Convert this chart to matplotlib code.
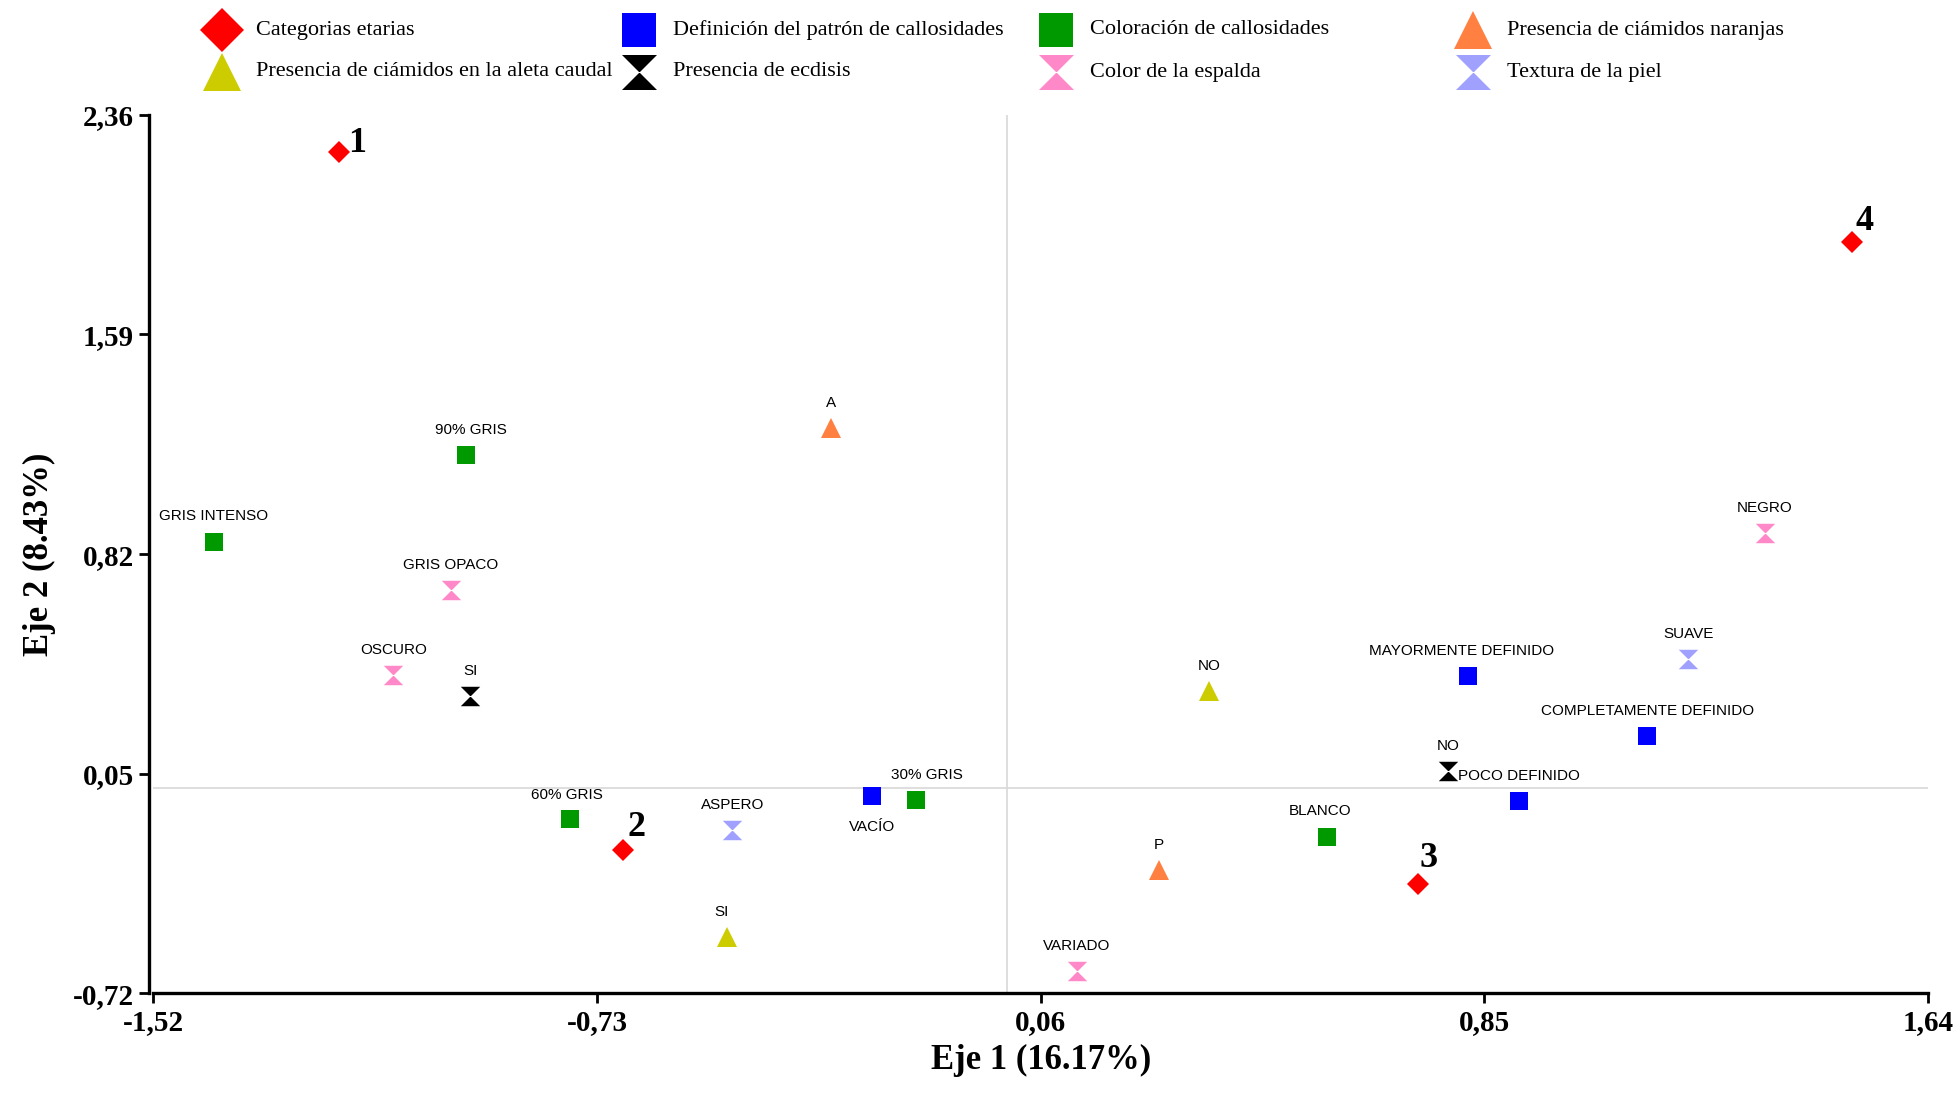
import matplotlib
matplotlib.use("Agg")
import matplotlib.pyplot as plt
from matplotlib.path import Path

# ---- data: coordinates of each category on the two axes ----
etarias_lbl = ["1", "2", "3", "4"]
etarias_x = [-1.189, -0.684, 0.731, 1.504]
etarias_y = [2.229, -0.217, -0.335, 1.914]

patron_lbl = ["VACÍO", "MAYORMENTE DEFINIDO", "COMPLETAMENTE DEFINIDO", "POCO DEFINIDO"]
patron_x = [-0.240, 0.820, 1.140, 0.911]
patron_y = [-0.029, 0.391, 0.181, -0.046]

coloracion_lbl = ["90% GRIS", "GRIS INTENSO", "60% GRIS", "30% GRIS", "BLANCO"]
coloracion_x = [-0.964, -1.413, -0.778, -0.162, 0.569]
coloracion_y = [1.166, 0.864, -0.108, -0.042, -0.173]

naranjas_lbl = ["A", "P"]
naranjas_x = [-0.313, 0.271]
naranjas_y = [1.262, -0.287]

caudal_lbl = ["NO", "SI"]
caudal_x = [0.360, -0.498]
caudal_y = [0.339, -0.523]

ecdisis_lbl = ["SI", "NO"]
ecdisis_x = [-0.956, 0.786]
ecdisis_y = [0.321, 0.059]

espalda_lbl = ["GRIS OPACO", "OSCURO", "NEGRO", "VARIADO"]
espalda_x = [-0.991, -1.093, 1.349, 0.124]
espalda_y = [0.693, 0.396, 0.894, -0.641]

textura_lbl = ["ASPERO", "SUAVE"]
textura_x = [-0.489, 1.213]
textura_y = [-0.147, 0.453]

x_ticks = [-1.52, -0.73, 0.06, 0.85, 1.64]
y_ticks = [-0.72, 0.05, 0.82, 1.59, 2.36]
x_title = "Eje 1 (16.17%)"
y_title = "Eje 2 (8.43%)"

# ---- styling ----
hourglass = Path(
    [(-1, 1), (1, 1), (0, 0), (-1, 1), (-1, -1), (1, -1), (0, 0), (-1, -1)],
    [Path.MOVETO, Path.LINETO, Path.LINETO, Path.CLOSEPOLY,
     Path.MOVETO, Path.LINETO, Path.LINETO, Path.CLOSEPOLY],
)

groups = [
    ("Categorias etarias", etarias_x, etarias_y, etarias_lbl, "D", "#ff0000", 11),
    ("Definición del patrón de callosidades", patron_x, patron_y, patron_lbl, "s", "#0000ff", 13.5),
    ("Coloración de callosidades", coloracion_x, coloracion_y, coloracion_lbl, "s", "#009900", 13.5),
    ("Presencia de ciámidos naranjas", naranjas_x, naranjas_y, naranjas_lbl, "^", "#ff8040", 15),
    ("Presencia de ciámidos en la aleta caudal", caudal_x, caudal_y, caudal_lbl, "^", "#cccc00", 15),
    ("Presencia de ecdisis", ecdisis_x, ecdisis_y, ecdisis_lbl, hourglass, "#000000", 14),
    ("Color de la espalda", espalda_x, espalda_y, espalda_lbl, hourglass, "#ff88c8", 14),
    ("Textura de la piel", textura_x, textura_y, textura_lbl, hourglass, "#a0a0ff", 14),
]

# label offsets in points (default: centred above the marker)
label_offsets = {"VACÍO": (0, -17), "90% GRIS": (4, 13), "30% GRIS": (8, 13),
                 "BLANCO": (-5, 14), "MAYORMENTE DEFINIDO": (-4, 13),
                 "SI@-0.498": (-4, 13), "60% GRIS": (-2, 12)}
number_offsets = {"1": (13, 6), "2": (10, 16), "3": (8, 18), "4": (9, 15)}

serif = "Liberation Serif"
sans = "Liberation Sans"

fig = plt.figure(figsize=(19.57, 10.93), dpi=100)
ax = fig.add_axes([0.0784, 0.0911, 0.9068, 0.8039])

for s in ("top", "right"):
    ax.spines[s].set_visible(False)
for s in ("left", "bottom"):
    ax.spines[s].set_linewidth(2.4)
ax.spines["left"].set_position(("outward", 3))

ax.axvline(0, color="#d8d8d8", lw=1.2, zorder=1)
ax.axhline(0, color="#d8d8d8", lw=1.2, zorder=1)

for name, xs, ys, lbls, mk, col, ms in groups:
    ax.plot(xs, ys, ls="none", marker=mk, color=col, markersize=ms,
            markeredgewidth=0, zorder=3, clip_on=False)
    for x, y, t in zip(xs, ys, lbls):
        if name == "Categorias etarias":
            dx, dy = number_offsets[t]
            ax.annotate(t, (x, y), xytext=(dx, dy), textcoords="offset points",
                        ha="center", va="center", fontsize=26, fontweight="bold",
                        family=serif, zorder=4)
        else:
            key = t if t not in ("SI", "NO") else f"{t}@{x}"
            dx, dy = label_offsets.get(key, label_offsets.get(t, (0, 13)))
            va = "top" if dy < 0 else "bottom"
            ax.annotate(t, (x, y), xytext=(dx, dy), textcoords="offset points",
                        ha="center", va=va, fontsize=11, family=sans, zorder=4)

ax.set_xlim(x_ticks[0], x_ticks[-1])
ax.set_ylim(y_ticks[0], y_ticks[-1])
ax.set_xticks(x_ticks)
ax.set_yticks(y_ticks)
fmt = lambda v: f"{v:.2f}".replace(".", ",")
ax.set_xticklabels([fmt(v) for v in x_ticks], fontsize=21, fontweight="bold", family=serif)
ax.set_yticklabels([fmt(v) for v in y_ticks], fontsize=21, fontweight="bold", family=serif)
ax.tick_params(direction="out", length=7, width=2, pad=4)
ax.set_xlabel(x_title, fontsize=25, fontweight="bold", family=serif, labelpad=6)
ax.set_ylabel(y_title, fontsize=25, fontweight="bold", family=serif, labelpad=12)

# ---- legend drawn as a grid of 2 rows x 4 columns ----
lax = fig.add_axes([0, 0, 1, 1], zorder=5)
lax.set_xlim(0, 1957)
lax.set_ylim(1093, 0)
lax.axis("off")
col_x = [222, 639, 1056, 1473]
row_y = [30, 72]
for i, (name, _, _, _, mk, col, ms) in enumerate(groups):
    cx = col_x[i % 4]
    cy = row_y[i // 4]
    lax.plot([cx], [cy], ls="none", marker=mk, color=col,
             markersize=ms * 1.8 if mk != "D" else ms * 2.0, markeredgewidth=0)
    lax.text(cx + 34, cy, name, ha="left", va="center", fontsize=16, family=serif)

fig.savefig("out.png", dpi=100, facecolor="white")
